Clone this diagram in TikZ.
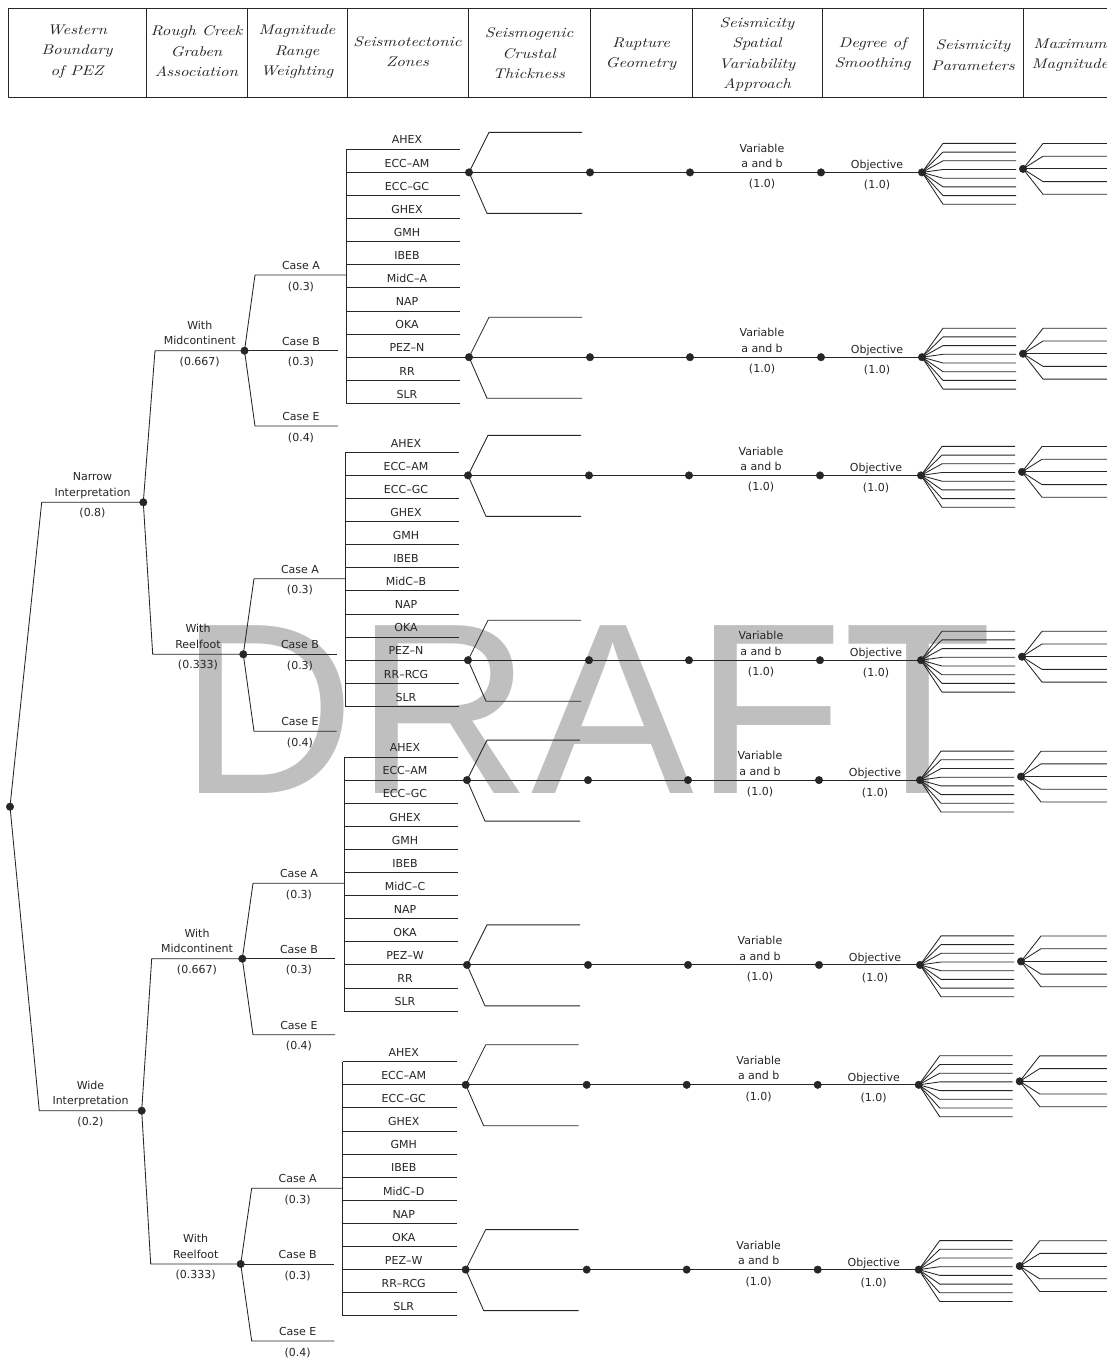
\documentclass[tikz,border=0pt]{standalone}
\usepackage{fontspec}
\newfontfamily\lblfont{DejaVu Sans}
\newfontfamily\hdrfont{lmroman10-italic.otf}[FakeStretch=1.2]
\newfontfamily\wmfont{Liberation Sans}
\begin{document}
\begin{tikzpicture}[x=1pt,y=-1pt,
  ln/.style={line width=0.85pt,draw=black!85,line join=round},
  dot/.style={circle,fill=black!85,draw=black!85,inner sep=0pt,minimum size=7.5pt},
  lbl/.style={font=\lblfont\fontsize{11}{15.5}\selectfont,text=black!85,inner sep=0pt,align=center},
  hdr/.style={font=\hdrfont\fontsize{14}{20.5}\selectfont,text=black!85,inner sep=0pt,align=center}]
\fill[white] (0,0) rectangle (1107,1359);
\useasboundingbox (0,0) rectangle (1107,1359);
% watermark
\node[anchor=base west,inner sep=0pt,text=black!25,font=\wmfont\fontsize{244}{244}\selectfont] (wm) at (179,793) {DRAFT};
% header
\draw[ln] (1115,8) -- (8,8) -- (8,97) -- (1115,97);
\foreach \xx in {146,247,347,468,590,692,822,923,1023} \draw[ln] (\xx,8) -- (\xx,97);
\node[hdr] (h1) at (77,51.5) {Western\\Boundary\\of PEZ};
\node[hdr] (h2) at (196.5,51.5) {Rough Creek\\Graben\\Association};
\node[hdr] (h3) at (297,52) {Magnitude\\Range\\Weighting};
\node[hdr] (h4) at (407.5,51.5) {Seismotectonic\\Zones};
\node[hdr] (h5) at (529,53.5) {Seismogenic\\Crustal\\Thickness};
\node[hdr] (h6) at (641,54) {Rupture\\Geometry};
\node[hdr] (h7) at (757,54.5) {Seismicity\\Spatial\\Variability\\Approach};
\node[hdr] (h8) at (872.5,54) {Degree of\\Smoothing};
\node[hdr] (h9) at (973,55) {Seismicity\\Parameters};
\node[hdr] (h10) at (1070,55) {Maximum\\Magnitude};
% root level
\node[dot] (root) at (10,806.7) {};
\node[dot] (nar) at (143.3,502.3) {};
\node[dot] (wid) at (141.7,1110.7) {};
\coordinate (narS) at (41.7,502.3);
\coordinate (widS) at (39.3,1110.7);
\draw[ln] (root.center) -- (narS) -- (nar.center);
\draw[ln] (root.center) -- (widS) -- (wid.center);
\node[lbl,anchor=south] (narL) at (92.5,501.3) {\strut Narrow\\\strut Interpretation};
\node[lbl,anchor=base] (narP) at (92.5,516.5) {(0.8)};
\node[lbl,anchor=south] (widL) at (90.5,1109.7) {\strut Wide\\\strut Interpretation};
\node[lbl,anchor=base] (widP) at (90.5,1125) {(0.2)};
% groups
\foreach \gi/\nx/\ny/\hx/\ya/\ye/\cx/\cend/\bx/\tp/\pa/\la/\lb/\pr/\midc/\pez/\rr in {
 1/244.5/350.7/155/275/426/255/338/346/149.3/nar/With/Midcontinent/{(0.667)}/MidC–A/PEZ–N/RR,
 2/243.3/654.3/152.7/578.7/731.3/254/336.5/345/452.3/nar/With/Reelfoot/{(0.333)}/MidC–B/PEZ–N/RR–RCG,
 3/242.3/958.7/151.7/883.3/1034.7/253/335/344/757/wid/With/Midcontinent/{(0.667)}/MidC–C/PEZ–W/RR,
 4/240.7/1264/150.7/1188.3/1341/251.7/334.3/342.7/1061.7/wid/With/Reelfoot/{(0.333)}/MidC–D/PEZ–W/RR–RCG}{
  \node[dot] (g\gi) at (\nx,\ny) {};
  \draw[ln] (\pa.center) -- (\hx,\ny) -- (g\gi.center);
  \pgfmathsetmacro\hm{(\hx+\nx)/2}
  \node[lbl,anchor=south] (g\gi L) at (\hm,\ny-1) {\strut\la\\\strut\lb};
  \node[lbl,anchor=base] (g\gi P) at (\hm,\ny+14.5) {\pr};
  % zones
  \foreach \kk [count=\zi from 0] in {AHEX,ECC–AM,ECC–GC,GHEX,GMH,IBEB,\midc,NAP,OKA,\pez,\rr,SLR}{
    \pgfmathsetmacro\yk{\tp+\zi*23.1}
    \coordinate (g\gi z\zi) at (\bx,\yk);
    \draw[ln] (g\gi z\zi) -- (\bx+114,\yk);
    \node[lbl,anchor=base] (g\gi zl\zi) at (\bx+61,\yk-5.3) {\kk};
  }
  \draw[ln] (g\gi z0) -- (g\gi z11);
  % cases
  \draw[ln] (g\gi.center) -- (\cx,\ya) -- (\bx,\ya);
  \draw[ln] (g\gi.center) -- (\cend,\ny);
  \draw[ln] (g\gi.center) -- (\cx,\ye) -- (\cend,\ye);
  \node[lbl,anchor=base] (g\gi aL) at (\cx+46,\ya-5.5) {Case A};
  \node[lbl,anchor=base] (g\gi aP) at (\cx+46,\ya+15) {(0.3)};
  \node[lbl,anchor=base] (g\gi bL) at (\cx+46,\ny-5.5) {Case B};
  \node[lbl,anchor=base] (g\gi bP) at (\cx+46,\ny+15) {(0.3)};
  \node[lbl,anchor=base] (g\gi eL) at (\cx+46,\ye-5.5) {Case E};
  \node[lbl,anchor=base] (g\gi eP) at (\cx+46,\ye+15) {(0.4)};
  % fans
  \foreach \rw in {1,9}{
    \pgfmathsetmacro\yr{\tp+\rw*23.1}
    \pgfmathsetmacro\ym{\yr-3.5}
    \node[dot] (g\gi r\rw C) at (\bx+123,\yr) {};
    \node[dot] (g\gi r\rw R) at (\bx+244,\yr) {};
    \node[dot] (g\gi r\rw S) at (\bx+344,\yr) {};
    \node[dot] (g\gi r\rw D) at (\bx+475,\yr) {};
    \node[dot] (g\gi r\rw P) at (\bx+576,\yr) {};
    \node[dot] (g\gi r\rw M) at (\bx+677,\ym) {};
    \draw[ln] (\bx,\yr) -- (g\gi r\rw C.center) -- (g\gi r\rw R.center) -- (g\gi r\rw S.center) -- (g\gi r\rw D.center) -- (g\gi r\rw P.center);
    \draw[ln] (g\gi r\rw C.center) -- (\bx+143,\yr-40) -- (\bx+236,\yr-40);
    \draw[ln] (g\gi r\rw C.center) -- (\bx+141,\yr+41) -- (\bx+236,\yr+41);
    \foreach \ii in {0,...,7}{
      \draw[ln] (g\gi r\rw P.center) -- (\bx+597,\yr-29+\ii*8.7) -- (\bx+670,\yr-29+\ii*8.7);
    }
    \foreach \jj in {-2,...,2}{
      \draw[ln] (g\gi r\rw M.center) -- (\bx+697,\ym+\jj*12.7) -- (1115,\ym+\jj*12.7);
    }
    \node[lbl,anchor=south] (g\gi r\rw V) at (\bx+416,\yr) {\strut Variable\\\strut a and b};
    \node[lbl,anchor=base] (g\gi r\rw Vp) at (\bx+416,\yr+15.5) {(1.0)};
    \node[lbl,anchor=base] (g\gi r\rw O) at (\bx+531,\yr-3.5) {Objective};
    \node[lbl,anchor=base] (g\gi r\rw Op) at (\bx+531,\yr+16.5) {(1.0)};
  }
}
\end{tikzpicture}
\end{document}
